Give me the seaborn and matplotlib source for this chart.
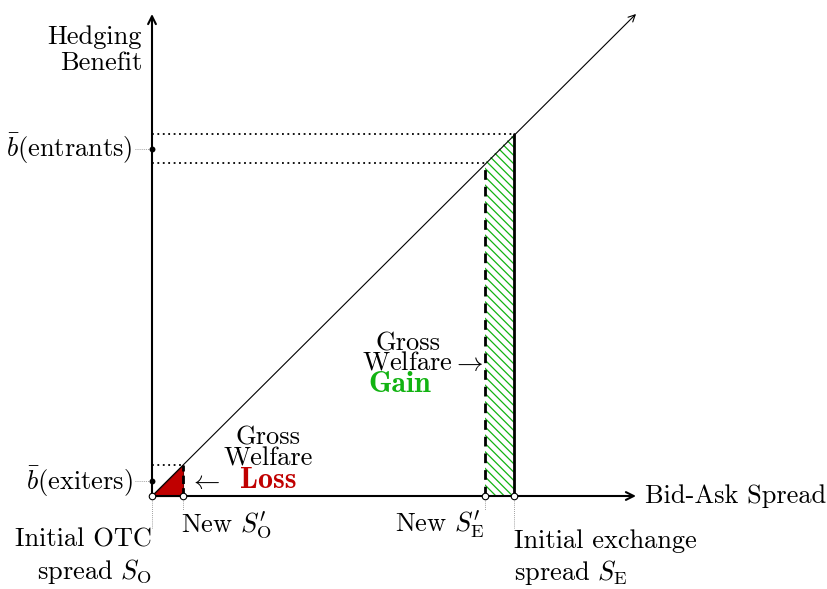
"""
Hedging benefit vs bid-ask spread: gross welfare gain / loss diagram
"""

import matplotlib.pyplot as plt
import seaborn as sns

sns.set_style("white")
plt.rcParams["font.family"] = ["cmr10", "DejaVu Serif"]
plt.rcParams["mathtext.fontset"] = "cm"
plt.rcParams["axes.unicode_minus"] = False
plt.rcParams["hatch.linewidth"] = 0.9
plt.rcParams["text.color"] = "black"

RED = "#C00000"
GREEN = "#12B312"
GRAY = "#7F7F7F"

# spreads (arbitrary units, diagonal is b = s)
S_O = 0
S_O_NEW = 31
S_E_NEW = 333
S_E = 362
# average benefit of exiters / entrants
B_EXITERS = 15
B_ENTRANTS = 347.5
# axis extents
X_END = 484
Y_END = 482

FS = 19
FS_BOLD = 21.5

fig = plt.figure(figsize=(8.28, 5.89), dpi=100)
ax = fig.add_axes([0, 0, 1, 1])
ax.set_xlim(-152, 676)
ax.set_ylim(-93, 496)
ax.axis("off")

# axes with arrows
for end in [(X_END, 0), (0, Y_END)]:
    ax.annotate("", xy=end, xytext=(0, 0),
                arrowprops=dict(arrowstyle="->", lw=1.5, color="black",
                                shrinkA=0, shrinkB=0, mutation_scale=14))
# 45 degree line
ax.annotate("", xy=(X_END, Y_END), xytext=(0, 0),
            arrowprops=dict(arrowstyle="->", lw=0.8, color="black",
                            shrinkA=0, shrinkB=0, mutation_scale=12))

# loss triangle
ax.fill([S_O, S_O_NEW, S_O_NEW], [0, 0, S_O_NEW], color=RED, lw=0.8,
        edgecolor="#700000", zorder=2)
# gain band (hatched)
ax.fill([S_E_NEW, S_E, S_E, S_E_NEW], [0, 0, S_E, S_E_NEW], facecolor="none",
        edgecolor=GREEN, hatch="\\\\\\\\", lw=0, zorder=2)

# vertical boundaries
ax.plot([S_O_NEW, S_O_NEW], [0, S_O_NEW], color="black", lw=2, ls=(0, (3, 1.5)), zorder=3)
ax.plot([S_E_NEW, S_E_NEW], [0, S_E_NEW], color="black", lw=2, ls=(0, (3.5, 2.5)), zorder=3)
ax.plot([S_E, S_E], [0, S_E], color="black", lw=2, zorder=3)

# dotted horizontal guides
for lvl in [S_O_NEW, S_E_NEW, S_E]:
    ax.plot([0, lvl], [lvl, lvl], color="black", lw=1.3, ls=(0, (1, 2)), zorder=3)

# thin guides to labels
for lvl in [B_EXITERS, B_ENTRANTS]:
    ax.plot([-17, 0], [lvl, lvl], color=GRAY, lw=0.6, ls=(0, (1, 1.5)))
for x, yb in zip([S_O, S_O_NEW, S_E_NEW, S_E], [-32, -14, -14, -32]):
    ax.plot([x, x], [0, yb], color=GRAY, lw=0.6, ls=(0, (1, 1.5)))

# points
sns.scatterplot(x=[S_O, S_O_NEW, S_E_NEW, S_E], y=[0, 0, 0, 0], ax=ax, s=22,
                color="white", edgecolor="black", linewidth=0.8, zorder=5)
sns.scatterplot(x=[0, 0], y=[B_EXITERS, B_ENTRANTS], ax=ax, s=18,
                color="black", edgecolor="black", linewidth=0, zorder=5)

# labels
ax.text(-10, 446, "Hedging\nBenefit", ha="right", va="center", fontsize=FS,
        multialignment="right", linespacing=1.15)
ax.text(-19, B_ENTRANTS, r"$\bar{b}$(entrants)", ha="right", va="center", fontsize=FS)
ax.text(-19, B_EXITERS - 1, r"$\bar{b}$(exiters)", ha="right", va="center", fontsize=FS)
ax.text(493, 0, "Bid-Ask Spread", ha="left", va="center", fontsize=FS)
ax.text(0, -61, "Initial OTC\n" + r"spread $S_{\mathrm{O}}$", ha="right", va="center",
        fontsize=FS, multialignment="right", linespacing=1.25)
ax.text(29, -29, r"New $S^{\prime}_{\mathrm{O}}$", ha="left", va="center", fontsize=FS)
ax.text(333, -29, r"New $S^{\prime}_{\mathrm{E}}$", ha="right", va="center", fontsize=FS)
ax.text(362, -62, "Initial exchange\n" + r"spread $S_{\mathrm{E}}$", ha="left", va="center",
        fontsize=FS, multialignment="left", linespacing=1.25)

# loss annotation
ax.text(116, 58, "Gross", ha="center", va="center", fontsize=FS)
ax.text(116, 37, "Welfare", ha="center", va="center", fontsize=FS)
ax.text(116, 15, "Loss", ha="center", va="center", fontsize=FS_BOLD, color=RED,
        family=["cmb10", "DejaVu Serif"])
ax.text(53, 15, r"$\leftarrow$", ha="center", va="center", fontsize=FS)

# gain annotation
ax.text(256, 152, "Gross", ha="center", va="center", fontsize=FS)
ax.text(270, 133, r"Welfare$\rightarrow$", ha="center", va="center", fontsize=FS)
ax.text(248, 111, "Gain", ha="center", va="center", fontsize=FS_BOLD, color=GREEN,
        family=["cmb10", "DejaVu Serif"])

plt.savefig("out.png", dpi=100)
plt.close()
